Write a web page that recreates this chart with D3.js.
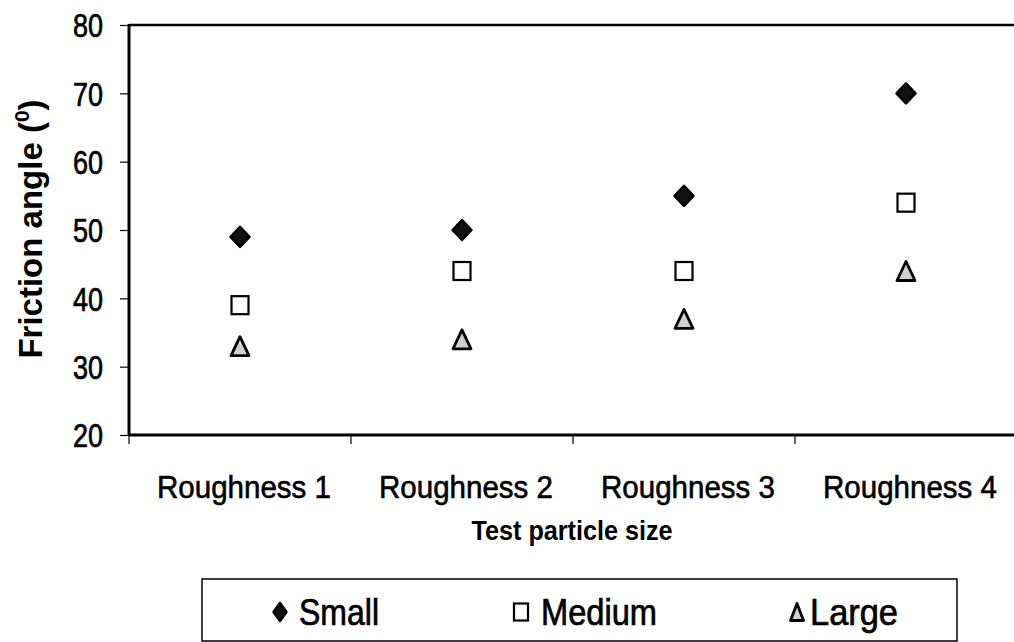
<!DOCTYPE html>
<html><head><meta charset="utf-8">
<script src="https://cdn.jsdelivr.net/npm/d3@7"></script>
<style>body{margin:0;background:#fff}svg{display:block}</style>
</head><body>
<svg id="c" width="1014" height="642"></svg>
<script>
const categories = ["Roughness 1","Roughness 2","Roughness 3","Roughness 4"];
const small = [49, 50, 55, 70];
const medium = [39, 44, 44, 54];
const large = [33, 34, 37, 44];
const yTicks = [20,30,40,50,60,70,80];
const seriesNames = ["Small","Medium","Large"];

const svg = d3.select("#c");
const L = 129, R = 1017, T = 25, B = 435;
const x = d3.scaleBand().domain(categories).range([L, R]).padding(0);
const y = d3.scaleLinear().domain([20, 80]).range([B, T]);
const font = "Liberation Sans, Arial, sans-serif";

// y axis
const ya = svg.append("g").attr("transform", `translate(${L},0)`)
  .call(d3.axisLeft(y).tickValues(yTicks).tickSize(9).tickPadding(17).tickFormat(d3.format("d")));
ya.select(".domain").remove();
ya.selectAll(".tick line").attr("stroke", "#000").attr("stroke-width", 1.2);
ya.selectAll(".tick text").attr("font-family", font).attr("font-size", 33)
  .attr("textLength", 30).attr("lengthAdjust", "spacingAndGlyphs")
  .attr("fill", "#000").attr("stroke", "#000").attr("stroke-width", 0.7).attr("dy", "0.36em");

// x axis ticks at band boundaries
const bounds = categories.map(c => x(c)).concat([x(categories[categories.length-1]) + x.bandwidth()]);
svg.append("g").selectAll("line").data(bounds).join("line")
  .attr("x1", d => d).attr("x2", d => d).attr("y1", B).attr("y2", B + 9)
  .attr("stroke", "#000").attr("stroke-width", 1.2);
svg.append("g").selectAll("text").data(categories).join("text")
  .attr("x", d => x(d) + x.bandwidth()/2 + 4).attr("y", 498)
  .attr("text-anchor", "middle").attr("font-family", font).attr("font-size", 31)
  .attr("textLength", 174).attr("lengthAdjust", "spacingAndGlyphs")
  .attr("fill", "#000").attr("stroke", "#000").attr("stroke-width", 0.6).text(d => d);

// frame lines
svg.append("line").attr("x1", L).attr("x2", L).attr("y1", T - 1).attr("y2", B + 1)
  .attr("stroke", "#000").attr("stroke-width", 3);
svg.append("line").attr("x1", L).attr("x2", R).attr("y1", B).attr("y2", B)
  .attr("stroke", "#000").attr("stroke-width", 3);
svg.append("line").attr("x1", L).attr("x2", R).attr("y1", T).attr("y2", T)
  .attr("stroke", "#000").attr("stroke-width", 2.5);

// axis titles
const yt = svg.append("text").attr("transform", `translate(42,${229}) rotate(-90)`)
  .attr("text-anchor", "middle").attr("font-family", font).attr("font-weight", "bold")
  .attr("font-size", 33).attr("fill", "#000");
yt.append("tspan").text("Friction angle (");
yt.append("tspan").attr("font-size", 21).attr("dy", -13).text("0");
yt.append("tspan").attr("dy", 13).text(")");

svg.append("text").attr("x", 572).attr("y", 540).attr("text-anchor", "middle")
  .attr("font-family", font).attr("font-weight", "bold").attr("font-size", 27)
  .attr("textLength", 201).attr("lengthAdjust", "spacingAndGlyphs")
  .attr("fill", "#000").text("Test particle size");

// marker drawers
function diamond(g, w, h) {
  g.append("path").attr("d", `M0,${-h/2}L${w/2},0L0,${h/2}L${-w/2},0Z`)
    .attr("fill", "#111").attr("stroke", "#000").attr("stroke-width", 2.5).attr("stroke-linejoin", "round");
}
function square(g, w, h) {
  g.append("rect").attr("x", -w/2).attr("y", -h/2).attr("width", w).attr("height", h)
    .attr("fill", "#fff").attr("stroke", "#000").attr("stroke-width", 2.2);
}
function triangle(g, w, h) {
  g.append("path").attr("d", `M0,${-h/2}L${w/2},${h/2}L${-w/2},${h/2}Z`)
    .attr("fill", "#cfcfcf").attr("stroke", "#000").attr("stroke-width", 2.8).attr("stroke-linejoin", "round");
}

const series = [
  {name: seriesNames[0], vals: small, draw: g => diamond(g, 19, 20)},
  {name: seriesNames[1], vals: medium, draw: g => square(g, 17, 18)},
  {name: seriesNames[2], vals: large, draw: g => triangle(g, 18, 19)}
];
series.forEach(s => {
  s.vals.forEach((v, i) => {
    const g = svg.append("g").attr("transform", `translate(${x(categories[i]) + x.bandwidth()/2},${y(v)})`);
    s.draw(g);
  });
});

// legend
svg.append("rect").attr("x", 202).attr("y", 579).attr("width", 755).attr("height", 62)
  .attr("fill", "none").attr("stroke", "#000").attr("stroke-width", 1.5);
const legItems = [
  {mx: 280, tx: 299, tw: 80, draw: g => diamond(g, 13, 18)},
  {mx: 521, tx: 541, tw: 116, draw: g => square(g, 14, 17)},
  {mx: 797, tx: 810, tw: 88, draw: g => triangle(g, 13, 17)}
];
legItems.forEach((it, i) => {
  const g = svg.append("g").attr("transform", `translate(${it.mx},612)`);
  it.draw(g);
  svg.append("text").attr("x", it.tx).attr("y", 625).attr("font-family", font).attr("font-size", 36)
    .attr("textLength", it.tw).attr("lengthAdjust", "spacingAndGlyphs")
    .attr("fill", "#000").attr("stroke", "#000").attr("stroke-width", 0.7).text(seriesNames[i]);
});
</script>
</body></html>
